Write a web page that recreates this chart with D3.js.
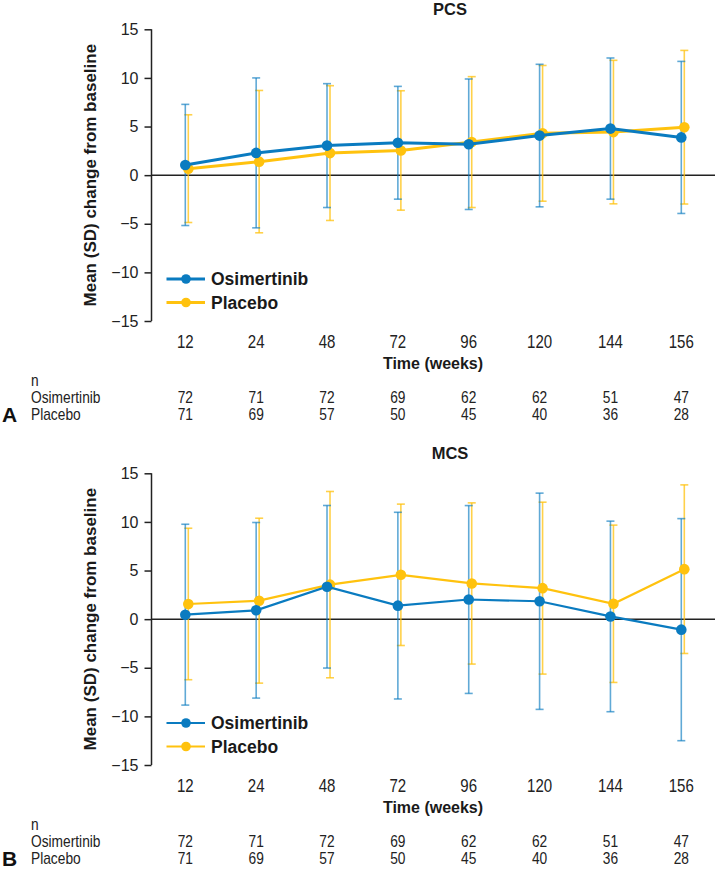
<!DOCTYPE html>
<html>
<head>
<meta charset="utf-8">
<script src="https://cdn.jsdelivr.net/npm/d3@7"></script>
<style>
  body { margin: 0; background: #fff; }
  svg { display: block; font-family: "Liberation Sans", Arial, sans-serif; }
</style>
</head>
<body>
<div id="chart"></div>
<script>
// time points and numbers at risk
const weeks = [12, 24, 48, 72, 96, 120, 144, 156];
const nOsim = [72, 71, 72, 69, 62, 62, 51, 47];
const nPlac = [71, 69, 57, 50, 45, 40, 36, 28];

// PCS mean and SD
const pcsOsimMean = [1.05, 2.29, 3.04, 3.33, 3.18, 4.07, 4.79, 3.88];
const pcsOsimSD   = [6.23, 7.71, 6.37, 5.80, 6.71, 7.33, 7.26, 7.82];
const pcsPlacMean = [0.67, 1.39, 2.27, 2.54, 3.40, 4.30, 4.43, 4.93];
const pcsPlacSD   = [5.54, 7.32, 6.93, 6.14, 6.73, 6.98, 7.38, 7.90];

// MCS mean and SD
const mcsOsimMean = [0.46, 0.91, 3.33, 1.39, 2.02, 1.84, 0.28, -1.08];
const mcsOsimSD   = [9.30, 9.03, 8.36, 9.60, 9.66, 11.12, 9.80, 11.42];
const mcsPlacMean = [1.56, 1.90, 3.55, 4.56, 3.67, 3.19, 1.58, 5.14];
const mcsPlacSD   = [7.79, 8.48, 9.58, 7.27, 8.29, 8.84, 8.09, 8.67];

const yTicks = [15, 10, 5, 0, -5, -10, -15];

const W = 715, H = 875;
const blue = "#0a7bc0", yellow = "#ffc20e";
const narrow = 0.86; // the original uses a condensed face

const svg = d3.select("#chart").append("svg")
    .attr("width", W)
    .attr("height", H);

// x is shared by both panels
const x = d3.scalePoint()
    .domain(weeks)
    .range([185.3, 681.3]);

const axisX = 151.5;

// condensed text helper
function ntext(g, tx, ty, txt, size, anchor) {
  return g.append("text")
      .attr("transform", "translate(" + tx + "," + ty + ") scale(" + narrow + ",1)")
      .attr("text-anchor", anchor || "start")
      .attr("font-size", size).attr("fill", "#222")
      .text(txt);
}

function drawPanel(top, title, letter, osimMean, osimSD, placMean, placSD) {
  const g = svg.append("g").attr("transform", "translate(0," + top + ")");

  const y = d3.scaleLinear()
      .domain([-15, 15])
      .range([321, 29.3]);

  // title
  g.append("text")
      .attr("x", 450).attr("y", 15)
      .attr("text-anchor", "middle")
      .attr("font-size", 16.5).attr("font-weight", "bold")
      .attr("fill", "#1a1a1a")
      .text(title);

  // y axis
  const yAxis = g.append("g")
      .attr("transform", "translate(" + axisX + ",0)")
      .call(d3.axisLeft(y).tickValues(yTicks).tickSize(7).tickPadding(6)
        .tickFormat(d => d < 0 ? "\u2212" + Math.abs(d) : d));
  yAxis.select(".domain").attr("stroke", "#222").attr("stroke-width", 1.5)
      .attr("d", "M0," + y(15) + "V" + y(-15));
  yAxis.selectAll(".tick line").attr("stroke", "#222").attr("stroke-width", 1.5);
  yAxis.selectAll(".tick text")
      .attr("font-family", "Liberation Sans, Arial, sans-serif")
      .attr("font-size", 16).attr("fill", "#222");

  // y label
  g.append("text")
      .attr("transform", "translate(96," + (y(0)) + ") rotate(-90)")
      .attr("text-anchor", "middle")
      .attr("font-size", 17).attr("font-weight", "bold")
      .attr("fill", "#1a1a1a")
      .text("Mean (SD) change from baseline");

  // zero line
  g.append("line")
      .attr("x1", axisX).attr("x2", W)
      .attr("y1", y(0)).attr("y2", y(0))
      .attr("stroke", "#222").attr("stroke-width", 1.5);

  // x tick labels (no axis line in the original)
  weeks.forEach(w => ntext(g, x(w), 348, w, 17.5, "middle"));

  g.append("text")
      .attr("x", 433).attr("y", 369)
      .attr("text-anchor", "middle")
      .attr("font-size", 16).attr("font-weight", "bold")
      .attr("fill", "#1a1a1a")
      .text("Time (weeks)");

  const series = [
    { mean: placMean, sd: placSD, color: yellow, off: 3, barOp: 0.75 },
    { mean: osimMean, sd: osimSD, color: blue, off: 0, barOp: 0.65 }
  ];

  const lw = title === "PCS" ? 3 : 2.2;

  // error bars
  series.forEach(s => {
    const eb = g.append("g").attr("stroke", s.color).attr("stroke-opacity", s.barOp)
        .attr("stroke-width", 1.6);
    weeks.forEach((w, i) => {
      const cx = x(w) + s.off;
      const hi = y(s.mean[i] + s.sd[i]), lo = y(s.mean[i] - s.sd[i]);
      eb.append("line").attr("x1", cx).attr("x2", cx).attr("y1", hi).attr("y2", lo);
      eb.append("line").attr("x1", cx - 4).attr("x2", cx + 4).attr("y1", hi).attr("y2", hi);
      eb.append("line").attr("x1", cx - 4).attr("x2", cx + 4).attr("y1", lo).attr("y2", lo);
    });
  });

  // lines and markers
  series.forEach(s => {
    const line = d3.line()
        .x((d, i) => x(weeks[i]) + s.off)
        .y(d => y(d));
    g.append("path")
        .datum(s.mean)
        .attr("d", line)
        .attr("fill", "none")
        .attr("stroke", s.color)
        .attr("stroke-width", lw);
    g.selectAll(null).data(s.mean).join("circle")
        .attr("cx", (d, i) => x(weeks[i]) + s.off)
        .attr("cy", d => y(d))
        .attr("r", 5.3)
        .attr("fill", s.color);
  });

  // legend
  const leg = [
    { label: "Osimertinib", color: blue, yy: 279 },
    { label: "Placebo", color: yellow, yy: 302.5 }
  ];
  leg.forEach(l => {
    g.append("line")
        .attr("x1", 166.5).attr("x2", 205)
        .attr("y1", l.yy).attr("y2", l.yy)
        .attr("stroke", l.color).attr("stroke-width", lw);
    g.append("circle")
        .attr("cx", 186).attr("cy", l.yy).attr("r", 4.8)
        .attr("fill", l.color);
    g.append("text")
        .attr("x", 211).attr("y", l.yy + 6)
        .attr("font-size", 17.5).attr("font-weight", "bold")
        .attr("fill", "#1a1a1a")
        .text(l.label);
  });

  // numbers at risk
  ntext(g, 31, 386, "n", 16);
  ntext(g, 31, 403, "Osimertinib", 16);
  ntext(g, 31, 420, "Placebo", 16);
  nOsim.forEach((d, i) => ntext(g, x(weeks[i]), 403, d, 16, "middle"));
  nPlac.forEach((d, i) => ntext(g, x(weeks[i]), 420, d, 16, "middle"));

  // panel letter
  g.append("text").attr("x", 2).attr("y", 422)
      .attr("font-size", 21).attr("font-weight", "bold")
      .attr("fill", "#111").text(letter);
}

drawPanel(0, "PCS", "A", pcsOsimMean, pcsOsimSD, pcsPlacMean, pcsPlacSD);
drawPanel(444, "MCS", "B", mcsOsimMean, mcsOsimSD, mcsPlacMean, mcsPlacSD);
</script>
</body>
</html>
